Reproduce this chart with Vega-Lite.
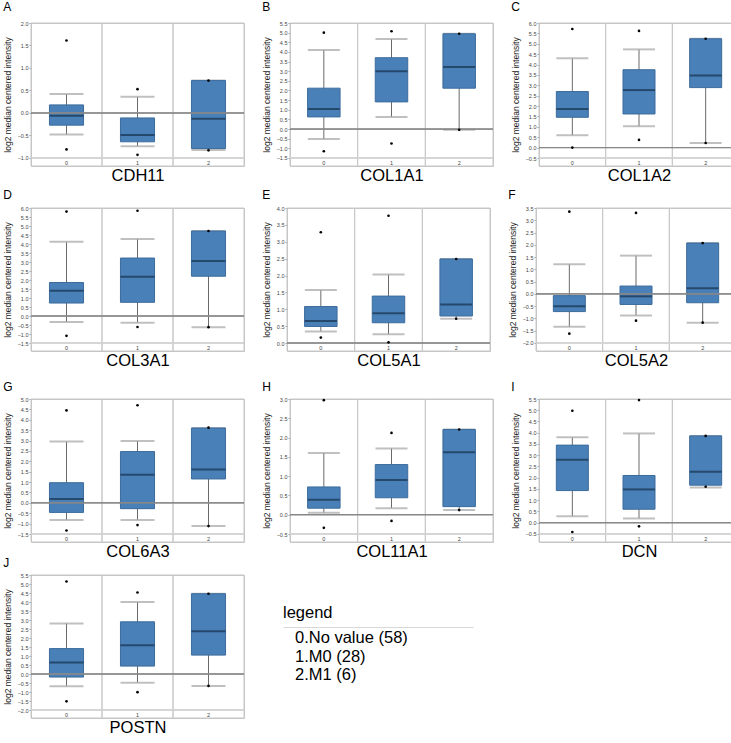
{
"$schema": "https://vega.github.io/schema/vega-lite/v6.json",
"padding": {"left": 2, "top": 0, "right": 2, "bottom": 2},
"background": "white",
"config": {
  "font": "Liberation Sans",
  "view": {"stroke": "#c4c4c4"},
  "title": {"font": "Liberation Sans", "fontWeight": "normal", "fontSize": 12, "anchor": "start", "frame": "bounds", "color": "#000", "offset": 7},
  "axisY": {"labelFont": "Liberation Sans", "labelFontSize": 5.5, "labelColor": "#444", "tickSize": 2, "tickColor": "#999", "domain": false, "grid": false, "labelPadding": 1, "titleFont": "Liberation Sans", "titleFontSize": 8.5, "titleFontWeight": "normal", "titleColor": "#222", "titlePadding": 5, "format": ".1f", "labelFlush": false, "labelOverlap": false},
  "axisX": {"labelFont": "Liberation Sans", "labelFontSize": 5.5, "labelColor": "#444", "ticks": false, "tickSize": 0, "domain": false, "grid": false, "labelPadding": -4, "labelAngle": 0, "labelBaseline": "middle", "titleFont": "Liberation Sans", "titleFontSize": 16.5, "titleFontWeight": "normal", "titleColor": "#000", "titlePadding": 1}
},
"data": {"values": [
  {"gene": "CDH11", "group": "0", "lo": -0.48, "q1": -0.27, "med": -0.06, "q3": 0.18, "hi": 0.42, "olo": -0.81, "ohi": 1.61},
  {"gene": "CDH11", "group": "1", "lo": -0.74, "q1": -0.64, "med": -0.49, "q3": -0.11, "hi": 0.36, "olo": -0.93, "ohi": 0.53},
  {"gene": "CDH11", "group": "2", "lo": -0.82, "q1": -0.79, "med": -0.13, "q3": 0.72, "hi": 0.72, "olo": -0.83, "ohi": 0.72},
  {"gene": "COL1A1", "group": "0", "lo": -0.52, "q1": 0.63, "med": 1.04, "q3": 2.12, "hi": 4.1, "olo": -1.15, "ohi": 5.0},
  {"gene": "COL1A1", "group": "1", "lo": 0.63, "q1": 1.41, "med": 3.0, "q3": 3.7, "hi": 4.67, "olo": -0.75, "ohi": 5.07},
  {"gene": "COL1A1", "group": "2", "lo": -0.04, "q1": 2.12, "med": 3.22, "q3": 4.94, "hi": 4.94, "olo": -0.04, "ohi": 4.94},
  {"gene": "COL1A2", "group": "0", "lo": 0.6, "q1": 1.46, "med": 1.86, "q3": 2.7, "hi": 4.3, "olo": 0.0, "ohi": 5.71},
  {"gene": "COL1A2", "group": "1", "lo": 1.03, "q1": 1.62, "med": 2.77, "q3": 3.75, "hi": 4.73, "olo": 0.37, "ohi": 5.62},
  {"gene": "COL1A2", "group": "2", "lo": 0.22, "q1": 2.89, "med": 3.47, "q3": 5.24, "hi": 5.24, "olo": 0.22, "ohi": 5.24},
  {"gene": "COL3A1", "group": "0", "lo": -0.33, "q1": 0.72, "med": 1.4, "q3": 1.86, "hi": 4.12, "olo": -1.1, "ohi": 5.8},
  {"gene": "COL3A1", "group": "1", "lo": -0.37, "q1": 0.76, "med": 2.18, "q3": 3.22, "hi": 4.28, "olo": -0.61, "ohi": 5.85},
  {"gene": "COL3A1", "group": "2", "lo": -0.62, "q1": 2.21, "med": 3.05, "q3": 4.72, "hi": 4.72, "olo": -0.62, "ohi": 4.72},
  {"gene": "COL5A1", "group": "0", "lo": 0.34, "q1": 0.49, "med": 0.65, "q3": 1.08, "hi": 1.57, "olo": 0.16, "ohi": 3.28},
  {"gene": "COL5A1", "group": "1", "lo": 0.26, "q1": 0.6, "med": 0.88, "q3": 1.39, "hi": 2.03, "olo": 0.02, "ohi": 3.77},
  {"gene": "COL5A1", "group": "2", "lo": 0.72, "q1": 0.8, "med": 1.14, "q3": 2.49, "hi": 2.49, "olo": 0.72, "ohi": 2.49},
  {"gene": "COL5A2", "group": "0", "lo": -1.34, "q1": -0.72, "med": -0.5, "q3": -0.07, "hi": 1.21, "olo": -1.62, "ohi": 3.35},
  {"gene": "COL5A2", "group": "1", "lo": -0.88, "q1": -0.43, "med": -0.1, "q3": 0.32, "hi": 1.56, "olo": -1.09, "ohi": 3.3},
  {"gene": "COL5A2", "group": "2", "lo": -1.17, "q1": -0.36, "med": 0.23, "q3": 2.07, "hi": 2.07, "olo": -1.17, "ohi": 2.07},
  {"gene": "COL6A3", "group": "0", "lo": -0.82, "q1": -0.46, "med": 0.18, "q3": 0.97, "hi": 2.95, "olo": -1.33, "ohi": 4.45},
  {"gene": "COL6A3", "group": "1", "lo": -0.82, "q1": -0.28, "med": 1.35, "q3": 2.47, "hi": 2.98, "olo": -1.07, "ohi": 4.7},
  {"gene": "COL6A3", "group": "2", "lo": -1.12, "q1": 1.15, "med": 1.6, "q3": 3.6, "hi": 3.6, "olo": -1.12, "ohi": 3.62},
  {"gene": "COL11A1", "group": "0", "lo": 0.05, "q1": 0.17, "med": 0.39, "q3": 0.72, "hi": 1.6, "olo": -0.34, "ohi": 2.97},
  {"gene": "COL11A1", "group": "1", "lo": 0.17, "q1": 0.44, "med": 0.9, "q3": 1.3, "hi": 1.72, "olo": -0.16, "ohi": 2.12},
  {"gene": "COL11A1", "group": "2", "lo": 0.12, "q1": 0.21, "med": 1.62, "q3": 2.21, "hi": 2.21, "olo": 0.12, "ohi": 2.21},
  {"gene": "DCN", "group": "0", "lo": 0.29, "q1": 1.43, "med": 2.8, "q3": 3.45, "hi": 3.8, "olo": -0.41, "ohi": 4.98},
  {"gene": "DCN", "group": "1", "lo": 0.19, "q1": 0.6, "med": 1.48, "q3": 2.1, "hi": 3.97, "olo": -0.16, "ohi": 5.45},
  {"gene": "DCN", "group": "2", "lo": 1.57, "q1": 1.67, "med": 2.27, "q3": 3.86, "hi": 3.86, "olo": 1.6, "ohi": 3.86},
  {"gene": "POSTN", "group": "0", "lo": -0.68, "q1": -0.17, "med": 0.64, "q3": 1.41, "hi": 2.81, "olo": -1.52, "ohi": 5.14},
  {"gene": "POSTN", "group": "1", "lo": -0.48, "q1": 0.44, "med": 1.6, "q3": 2.9, "hi": 4.0, "olo": -1.01, "ohi": 4.53},
  {"gene": "POSTN", "group": "2", "lo": -0.66, "q1": 1.05, "med": 2.37, "q3": 4.46, "hi": 4.46, "olo": -0.66, "ohi": 4.46}
]},
"spacing": 4,
"vconcat": [
{"spacing": 16, "hconcat": [
{"title": "A", "width": 213, "height": 143,
 "transform": [{"filter": {"field": "gene", "equal": "CDH11"}}],
 "layer": [
  {"mark": {"type": "rect", "fillOpacity": 0, "stroke": "#c8c8c8", "strokeWidth": 1},
   "encoding": {"x": {"field": "group", "type": "nominal", "scale": {"paddingInner": 0, "paddingOuter": 0}, "axis": {"title": "CDH11"}},
     "y": {"datum": 2, "type": "quantitative", "scale": {"domain": [-1.178, 2], "nice": false, "zero": false}, "axis": {"title": "log2 median centered intensity", "labelOverlap": false, "tickCount": 40, "values": [-1, -0.5, 0, 0.5, 1, 1.5, 2]}},
     "y2": {"datum": -1.178}}},
  {"mark": {"type": "rule", "color": "#d0d0d0"}, "encoding": {"y": {"datum": -1}}},
  {"mark": {"type": "rule", "color": "#6a6a6a"}, "encoding": {"x": {"field": "group", "type": "nominal"}, "y": {"field": "lo", "type": "quantitative"}, "y2": {"field": "hi"}}},
  {"transform": [{"fold": ["lo", "hi"], "as": ["k", "v"]}], "mark": {"type": "tick", "color": "#a5a5a5", "thickness": 2, "size": 34}, "encoding": {"x": {"field": "group", "type": "nominal"}, "y": {"field": "v", "type": "quantitative"}}},
  {"mark": {"type": "bar", "fill": "#4a80b8", "stroke": "#3b6b9c", "strokeWidth": 1, "width": {"band": 0.48}}, "encoding": {"x": {"field": "group", "type": "nominal"}, "y": {"field": "q1", "type": "quantitative"}, "y2": {"field": "q3"}}},
  {"mark": {"type": "rule", "color": "#888"}, "encoding": {"y": {"datum": 0}}},
  {"mark": {"type": "tick", "color": "#15304d", "thickness": 2, "size": 34}, "encoding": {"x": {"field": "group", "type": "nominal"}, "y": {"field": "med", "type": "quantitative"}}},
  {"transform": [{"fold": ["olo", "ohi"], "as": ["k", "v"]}], "mark": {"type": "circle", "color": "#000", "size": 7, "opacity": 1}, "encoding": {"x": {"field": "group", "type": "nominal"}, "y": {"field": "v", "type": "quantitative"}}}
 ]},
{"title": "B", "width": 203, "height": 143,
 "transform": [{"filter": {"field": "gene", "equal": "COL1A1"}}],
 "layer": [
  {"mark": {"type": "rect", "fillOpacity": 0, "stroke": "#c8c8c8", "strokeWidth": 1},
   "encoding": {"x": {"field": "group", "type": "nominal", "scale": {"paddingInner": 0, "paddingOuter": 0}, "axis": {"title": "COL1A1"}},
     "y": {"datum": 5.5, "type": "quantitative", "scale": {"domain": [-1.915, 5.5], "nice": false, "zero": false}, "axis": {"title": "log2 median centered intensity", "labelOverlap": false, "tickCount": 40, "values": [-1.5, -1, -0.5, 0, 0.5, 1, 1.5, 2, 2.5, 3, 3.5, 4, 4.5, 5, 5.5]}},
     "y2": {"datum": -1.915}}},
  {"mark": {"type": "rule", "color": "#d0d0d0"}, "encoding": {"y": {"datum": -1.5}}},
  {"mark": {"type": "rule", "color": "#6a6a6a"}, "encoding": {"x": {"field": "group", "type": "nominal"}, "y": {"field": "lo", "type": "quantitative"}, "y2": {"field": "hi"}}},
  {"transform": [{"fold": ["lo", "hi"], "as": ["k", "v"]}], "mark": {"type": "tick", "color": "#a5a5a5", "thickness": 2, "size": 32}, "encoding": {"x": {"field": "group", "type": "nominal"}, "y": {"field": "v", "type": "quantitative"}}},
  {"mark": {"type": "bar", "fill": "#4a80b8", "stroke": "#3b6b9c", "strokeWidth": 1, "width": {"band": 0.48}}, "encoding": {"x": {"field": "group", "type": "nominal"}, "y": {"field": "q1", "type": "quantitative"}, "y2": {"field": "q3"}}},
  {"mark": {"type": "rule", "color": "#888"}, "encoding": {"y": {"datum": 0}}},
  {"mark": {"type": "tick", "color": "#15304d", "thickness": 2, "size": 32}, "encoding": {"x": {"field": "group", "type": "nominal"}, "y": {"field": "med", "type": "quantitative"}}},
  {"transform": [{"fold": ["olo", "ohi"], "as": ["k", "v"]}], "mark": {"type": "circle", "color": "#000", "size": 7, "opacity": 1}, "encoding": {"x": {"field": "group", "type": "nominal"}, "y": {"field": "v", "type": "quantitative"}}}
 ]},
{"title": "C", "width": 200, "height": 143,
 "transform": [{"filter": {"field": "gene", "equal": "COL1A2"}}],
 "layer": [
  {"mark": {"type": "rect", "fillOpacity": 0, "stroke": "#c8c8c8", "strokeWidth": 1},
   "encoding": {"x": {"field": "group", "type": "nominal", "scale": {"paddingInner": 0, "paddingOuter": 0}, "axis": {"title": "COL1A2"}},
     "y": {"datum": 6, "type": "quantitative", "scale": {"domain": [-0.885, 6], "nice": false, "zero": false}, "axis": {"title": "log2 median centered intensity", "labelOverlap": false, "tickCount": 40, "values": [-0.5, 0, 0.5, 1, 1.5, 2, 2.5, 3, 3.5, 4, 4.5, 5, 5.5, 6]}},
     "y2": {"datum": -0.885}}},
  {"mark": {"type": "rule", "color": "#d0d0d0"}, "encoding": {"y": {"datum": -0.5}}},
  {"mark": {"type": "rule", "color": "#6a6a6a"}, "encoding": {"x": {"field": "group", "type": "nominal"}, "y": {"field": "lo", "type": "quantitative"}, "y2": {"field": "hi"}}},
  {"transform": [{"fold": ["lo", "hi"], "as": ["k", "v"]}], "mark": {"type": "tick", "color": "#a5a5a5", "thickness": 2, "size": 32}, "encoding": {"x": {"field": "group", "type": "nominal"}, "y": {"field": "v", "type": "quantitative"}}},
  {"mark": {"type": "bar", "fill": "#4a80b8", "stroke": "#3b6b9c", "strokeWidth": 1, "width": {"band": 0.48}}, "encoding": {"x": {"field": "group", "type": "nominal"}, "y": {"field": "q1", "type": "quantitative"}, "y2": {"field": "q3"}}},
  {"mark": {"type": "rule", "color": "#888"}, "encoding": {"y": {"datum": 0}}},
  {"mark": {"type": "tick", "color": "#15304d", "thickness": 2, "size": 32}, "encoding": {"x": {"field": "group", "type": "nominal"}, "y": {"field": "med", "type": "quantitative"}}},
  {"transform": [{"fold": ["olo", "ohi"], "as": ["k", "v"]}], "mark": {"type": "circle", "color": "#000", "size": 7, "opacity": 1}, "encoding": {"x": {"field": "group", "type": "nominal"}, "y": {"field": "v", "type": "quantitative"}}}
 ]}
]},
{"spacing": 11, "vconcat": [
{"spacing": 16, "hconcat": [
{"title": {"text": "D", "offset": 4}, "width": 213, "height": 143,
 "transform": [{"filter": {"field": "gene", "equal": "COL3A1"}}],
 "layer": [
  {"mark": {"type": "rect", "fillOpacity": 0, "stroke": "#c8c8c8", "strokeWidth": 1},
   "encoding": {"x": {"field": "group", "type": "nominal", "scale": {"paddingInner": 0, "paddingOuter": 0}, "axis": {"title": "COL3A1"}},
     "y": {"datum": 6, "type": "quantitative", "scale": {"domain": [-1.944, 6], "nice": false, "zero": false}, "axis": {"title": "log2 median centered intensity", "labelOverlap": false, "tickCount": 40, "values": [-1.5, -1, -0.5, 0, 0.5, 1, 1.5, 2, 2.5, 3, 3.5, 4, 4.5, 5, 5.5, 6]}},
     "y2": {"datum": -1.944}}},
  {"mark": {"type": "rule", "color": "#d0d0d0"}, "encoding": {"y": {"datum": -1.5}}},
  {"mark": {"type": "rule", "color": "#6a6a6a"}, "encoding": {"x": {"field": "group", "type": "nominal"}, "y": {"field": "lo", "type": "quantitative"}, "y2": {"field": "hi"}}},
  {"transform": [{"fold": ["lo", "hi"], "as": ["k", "v"]}], "mark": {"type": "tick", "color": "#a5a5a5", "thickness": 2, "size": 34}, "encoding": {"x": {"field": "group", "type": "nominal"}, "y": {"field": "v", "type": "quantitative"}}},
  {"mark": {"type": "bar", "fill": "#4a80b8", "stroke": "#3b6b9c", "strokeWidth": 1, "width": {"band": 0.48}}, "encoding": {"x": {"field": "group", "type": "nominal"}, "y": {"field": "q1", "type": "quantitative"}, "y2": {"field": "q3"}}},
  {"mark": {"type": "rule", "color": "#888"}, "encoding": {"y": {"datum": 0}}},
  {"mark": {"type": "tick", "color": "#15304d", "thickness": 2, "size": 34}, "encoding": {"x": {"field": "group", "type": "nominal"}, "y": {"field": "med", "type": "quantitative"}}},
  {"transform": [{"fold": ["olo", "ohi"], "as": ["k", "v"]}], "mark": {"type": "circle", "color": "#000", "size": 7, "opacity": 1}, "encoding": {"x": {"field": "group", "type": "nominal"}, "y": {"field": "v", "type": "quantitative"}}}
 ]},
{"title": {"text": "E", "offset": 4}, "width": 203, "height": 143,
 "transform": [{"filter": {"field": "gene", "equal": "COL5A1"}}],
 "layer": [
  {"mark": {"type": "rect", "fillOpacity": 0, "stroke": "#c8c8c8", "strokeWidth": 1},
   "encoding": {"x": {"field": "group", "type": "nominal", "scale": {"paddingInner": 0, "paddingOuter": 0}, "axis": {"title": "COL5A1"}},
     "y": {"datum": 4, "type": "quantitative", "scale": {"domain": [-0.237, 4], "nice": false, "zero": false}, "axis": {"title": "log2 median centered intensity", "labelOverlap": false, "tickCount": 40, "values": [0, 0.5, 1, 1.5, 2, 2.5, 3, 3.5, 4]}},
     "y2": {"datum": -0.237}}},
  {"mark": {"type": "rule", "color": "#6a6a6a"}, "encoding": {"x": {"field": "group", "type": "nominal"}, "y": {"field": "lo", "type": "quantitative"}, "y2": {"field": "hi"}}},
  {"transform": [{"fold": ["lo", "hi"], "as": ["k", "v"]}], "mark": {"type": "tick", "color": "#a5a5a5", "thickness": 2, "size": 32}, "encoding": {"x": {"field": "group", "type": "nominal"}, "y": {"field": "v", "type": "quantitative"}}},
  {"mark": {"type": "bar", "fill": "#4a80b8", "stroke": "#3b6b9c", "strokeWidth": 1, "width": {"band": 0.48}}, "encoding": {"x": {"field": "group", "type": "nominal"}, "y": {"field": "q1", "type": "quantitative"}, "y2": {"field": "q3"}}},
  {"mark": {"type": "rule", "color": "#888"}, "encoding": {"y": {"datum": 0}}},
  {"mark": {"type": "tick", "color": "#15304d", "thickness": 2, "size": 32}, "encoding": {"x": {"field": "group", "type": "nominal"}, "y": {"field": "med", "type": "quantitative"}}},
  {"transform": [{"fold": ["olo", "ohi"], "as": ["k", "v"]}], "mark": {"type": "circle", "color": "#000", "size": 7, "opacity": 1}, "encoding": {"x": {"field": "group", "type": "nominal"}, "y": {"field": "v", "type": "quantitative"}}}
 ]},
{"title": {"text": "F", "offset": 4}, "width": 200, "height": 143,
 "transform": [{"filter": {"field": "gene", "equal": "COL5A2"}}],
 "layer": [
  {"mark": {"type": "rect", "fillOpacity": 0, "stroke": "#c8c8c8", "strokeWidth": 1},
   "encoding": {"x": {"field": "group", "type": "nominal", "scale": {"paddingInner": 0, "paddingOuter": 0}, "axis": {"title": "COL5A2"}},
     "y": {"datum": 3.5, "type": "quantitative", "scale": {"domain": [-2.326, 3.5], "nice": false, "zero": false}, "axis": {"title": "log2 median centered intensity", "labelOverlap": false, "tickCount": 40, "values": [-2, -1.5, -1, -0.5, 0, 0.5, 1, 1.5, 2, 2.5, 3, 3.5]}},
     "y2": {"datum": -2.326}}},
  {"mark": {"type": "rule", "color": "#d0d0d0"}, "encoding": {"y": {"datum": -2}}},
  {"mark": {"type": "rule", "color": "#6a6a6a"}, "encoding": {"x": {"field": "group", "type": "nominal"}, "y": {"field": "lo", "type": "quantitative"}, "y2": {"field": "hi"}}},
  {"transform": [{"fold": ["lo", "hi"], "as": ["k", "v"]}], "mark": {"type": "tick", "color": "#a5a5a5", "thickness": 2, "size": 32}, "encoding": {"x": {"field": "group", "type": "nominal"}, "y": {"field": "v", "type": "quantitative"}}},
  {"mark": {"type": "bar", "fill": "#4a80b8", "stroke": "#3b6b9c", "strokeWidth": 1, "width": {"band": 0.48}}, "encoding": {"x": {"field": "group", "type": "nominal"}, "y": {"field": "q1", "type": "quantitative"}, "y2": {"field": "q3"}}},
  {"mark": {"type": "rule", "color": "#888"}, "encoding": {"y": {"datum": 0}}},
  {"mark": {"type": "tick", "color": "#15304d", "thickness": 2, "size": 32}, "encoding": {"x": {"field": "group", "type": "nominal"}, "y": {"field": "med", "type": "quantitative"}}},
  {"transform": [{"fold": ["olo", "ohi"], "as": ["k", "v"]}], "mark": {"type": "circle", "color": "#000", "size": 7, "opacity": 1}, "encoding": {"x": {"field": "group", "type": "nominal"}, "y": {"field": "v", "type": "quantitative"}}}
 ]}
]},
{"spacing": -4, "vconcat": [
{"spacing": 16, "hconcat": [
{"title": {"text": "G", "offset": 3}, "width": 213, "height": 143,
 "transform": [{"filter": {"field": "gene", "equal": "COL6A3"}}],
 "layer": [
  {"mark": {"type": "rect", "fillOpacity": 0, "stroke": "#c8c8c8", "strokeWidth": 1},
   "encoding": {"x": {"field": "group", "type": "nominal", "scale": {"paddingInner": 0, "paddingOuter": 0}, "axis": {"title": "COL6A3"}},
     "y": {"datum": 5, "type": "quantitative", "scale": {"domain": [-1.885, 5], "nice": false, "zero": false}, "axis": {"title": "log2 median centered intensity", "labelOverlap": false, "tickCount": 40, "values": [-1.5, -1, -0.5, 0, 0.5, 1, 1.5, 2, 2.5, 3, 3.5, 4, 4.5, 5]}},
     "y2": {"datum": -1.885}}},
  {"mark": {"type": "rule", "color": "#d0d0d0"}, "encoding": {"y": {"datum": -1.5}}},
  {"mark": {"type": "rule", "color": "#6a6a6a"}, "encoding": {"x": {"field": "group", "type": "nominal"}, "y": {"field": "lo", "type": "quantitative"}, "y2": {"field": "hi"}}},
  {"transform": [{"fold": ["lo", "hi"], "as": ["k", "v"]}], "mark": {"type": "tick", "color": "#a5a5a5", "thickness": 2, "size": 34}, "encoding": {"x": {"field": "group", "type": "nominal"}, "y": {"field": "v", "type": "quantitative"}}},
  {"mark": {"type": "bar", "fill": "#4a80b8", "stroke": "#3b6b9c", "strokeWidth": 1, "width": {"band": 0.48}}, "encoding": {"x": {"field": "group", "type": "nominal"}, "y": {"field": "q1", "type": "quantitative"}, "y2": {"field": "q3"}}},
  {"mark": {"type": "rule", "color": "#888"}, "encoding": {"y": {"datum": 0}}},
  {"mark": {"type": "tick", "color": "#15304d", "thickness": 2, "size": 34}, "encoding": {"x": {"field": "group", "type": "nominal"}, "y": {"field": "med", "type": "quantitative"}}},
  {"transform": [{"fold": ["olo", "ohi"], "as": ["k", "v"]}], "mark": {"type": "circle", "color": "#000", "size": 7, "opacity": 1}, "encoding": {"x": {"field": "group", "type": "nominal"}, "y": {"field": "v", "type": "quantitative"}}}
 ]},
{"title": {"text": "H", "offset": 3}, "width": 203, "height": 143,
 "transform": [{"filter": {"field": "gene", "equal": "COL11A1"}}],
 "layer": [
  {"mark": {"type": "rect", "fillOpacity": 0, "stroke": "#c8c8c8", "strokeWidth": 1},
   "encoding": {"x": {"field": "group", "type": "nominal", "scale": {"paddingInner": 0, "paddingOuter": 0}, "axis": {"title": "COL11A1"}},
     "y": {"datum": 3, "type": "quantitative", "scale": {"domain": [-0.707, 3], "nice": false, "zero": false}, "axis": {"title": "log2 median centered intensity", "labelOverlap": false, "tickCount": 40, "values": [-0.5, 0, 0.5, 1, 1.5, 2, 2.5, 3]}},
     "y2": {"datum": -0.707}}},
  {"mark": {"type": "rule", "color": "#d0d0d0"}, "encoding": {"y": {"datum": -0.5}}},
  {"mark": {"type": "rule", "color": "#6a6a6a"}, "encoding": {"x": {"field": "group", "type": "nominal"}, "y": {"field": "lo", "type": "quantitative"}, "y2": {"field": "hi"}}},
  {"transform": [{"fold": ["lo", "hi"], "as": ["k", "v"]}], "mark": {"type": "tick", "color": "#a5a5a5", "thickness": 2, "size": 32}, "encoding": {"x": {"field": "group", "type": "nominal"}, "y": {"field": "v", "type": "quantitative"}}},
  {"mark": {"type": "bar", "fill": "#4a80b8", "stroke": "#3b6b9c", "strokeWidth": 1, "width": {"band": 0.48}}, "encoding": {"x": {"field": "group", "type": "nominal"}, "y": {"field": "q1", "type": "quantitative"}, "y2": {"field": "q3"}}},
  {"mark": {"type": "rule", "color": "#888"}, "encoding": {"y": {"datum": 0}}},
  {"mark": {"type": "tick", "color": "#15304d", "thickness": 2, "size": 32}, "encoding": {"x": {"field": "group", "type": "nominal"}, "y": {"field": "med", "type": "quantitative"}}},
  {"transform": [{"fold": ["olo", "ohi"], "as": ["k", "v"]}], "mark": {"type": "circle", "color": "#000", "size": 7, "opacity": 1}, "encoding": {"x": {"field": "group", "type": "nominal"}, "y": {"field": "v", "type": "quantitative"}}}
 ]},
{"title": {"text": "I", "offset": 3}, "width": 200, "height": 143,
 "transform": [{"filter": {"field": "gene", "equal": "DCN"}}],
 "layer": [
  {"mark": {"type": "rect", "fillOpacity": 0, "stroke": "#c8c8c8", "strokeWidth": 1},
   "encoding": {"x": {"field": "group", "type": "nominal", "scale": {"paddingInner": 0, "paddingOuter": 0}, "axis": {"title": "DCN"}},
     "y": {"datum": 5.5, "type": "quantitative", "scale": {"domain": [-0.856, 5.5], "nice": false, "zero": false}, "axis": {"title": "log2 median centered intensity", "labelOverlap": false, "tickCount": 40, "values": [-0.5, 0, 0.5, 1, 1.5, 2, 2.5, 3, 3.5, 4, 4.5, 5, 5.5]}},
     "y2": {"datum": -0.856}}},
  {"mark": {"type": "rule", "color": "#d0d0d0"}, "encoding": {"y": {"datum": -0.5}}},
  {"mark": {"type": "rule", "color": "#6a6a6a"}, "encoding": {"x": {"field": "group", "type": "nominal"}, "y": {"field": "lo", "type": "quantitative"}, "y2": {"field": "hi"}}},
  {"transform": [{"fold": ["lo", "hi"], "as": ["k", "v"]}], "mark": {"type": "tick", "color": "#a5a5a5", "thickness": 2, "size": 32}, "encoding": {"x": {"field": "group", "type": "nominal"}, "y": {"field": "v", "type": "quantitative"}}},
  {"mark": {"type": "bar", "fill": "#4a80b8", "stroke": "#3b6b9c", "strokeWidth": 1, "width": {"band": 0.48}}, "encoding": {"x": {"field": "group", "type": "nominal"}, "y": {"field": "q1", "type": "quantitative"}, "y2": {"field": "q3"}}},
  {"mark": {"type": "rule", "color": "#888"}, "encoding": {"y": {"datum": 0}}},
  {"mark": {"type": "tick", "color": "#15304d", "thickness": 2, "size": 32}, "encoding": {"x": {"field": "group", "type": "nominal"}, "y": {"field": "med", "type": "quantitative"}}},
  {"transform": [{"fold": ["olo", "ohi"], "as": ["k", "v"]}], "mark": {"type": "circle", "color": "#000", "size": 7, "opacity": 1}, "encoding": {"x": {"field": "group", "type": "nominal"}, "y": {"field": "v", "type": "quantitative"}}}
 ]}
]},
{"spacing": 38, "hconcat": [
{"title": {"text": "J", "offset": 3}, "width": 213, "height": 143,
 "transform": [{"filter": {"field": "gene", "equal": "POSTN"}}],
 "layer": [
  {"mark": {"type": "rect", "fillOpacity": 0, "stroke": "#c8c8c8", "strokeWidth": 1},
   "encoding": {"x": {"field": "group", "type": "nominal", "scale": {"paddingInner": 0, "paddingOuter": 0}, "axis": {"title": "POSTN"}},
     "y": {"datum": 5.5, "type": "quantitative", "scale": {"domain": [-2.444, 5.5], "nice": false, "zero": false}, "axis": {"title": "log2 median centered intensity", "labelOverlap": false, "tickCount": 40, "values": [-2, -1.5, -1, -0.5, 0, 0.5, 1, 1.5, 2, 2.5, 3, 3.5, 4, 4.5, 5, 5.5]}},
     "y2": {"datum": -2.444}}},
  {"mark": {"type": "rule", "color": "#d0d0d0"}, "encoding": {"y": {"datum": -2}}},
  {"mark": {"type": "rule", "color": "#6a6a6a"}, "encoding": {"x": {"field": "group", "type": "nominal"}, "y": {"field": "lo", "type": "quantitative"}, "y2": {"field": "hi"}}},
  {"transform": [{"fold": ["lo", "hi"], "as": ["k", "v"]}], "mark": {"type": "tick", "color": "#a5a5a5", "thickness": 2, "size": 34}, "encoding": {"x": {"field": "group", "type": "nominal"}, "y": {"field": "v", "type": "quantitative"}}},
  {"mark": {"type": "bar", "fill": "#4a80b8", "stroke": "#3b6b9c", "strokeWidth": 1, "width": {"band": 0.48}}, "encoding": {"x": {"field": "group", "type": "nominal"}, "y": {"field": "q1", "type": "quantitative"}, "y2": {"field": "q3"}}},
  {"mark": {"type": "rule", "color": "#888"}, "encoding": {"y": {"datum": 0}}},
  {"mark": {"type": "tick", "color": "#15304d", "thickness": 2, "size": 34}, "encoding": {"x": {"field": "group", "type": "nominal"}, "y": {"field": "med", "type": "quantitative"}}},
  {"transform": [{"fold": ["olo", "ohi"], "as": ["k", "v"]}], "mark": {"type": "circle", "color": "#000", "size": 7, "opacity": 1}, "encoding": {"x": {"field": "group", "type": "nominal"}, "y": {"field": "v", "type": "quantitative"}}}
 ]},
{"spacing": 0, "vconcat": [
  {"width": 190, "height": 29, "data": {"values": [{}]}, "mark": {"type": "point", "opacity": 0}, "encoding": {}, "view": {"stroke": null}},
  {"width": 190, "height": 56,
   "title": {"text": "legend", "fontSize": 16.5, "offset": 6},
   "view": {"stroke": null},
   "data": {"values": [{"order": 0, "label": "0.No value (58)"}, {"order": 1, "label": "1.M0 (28)"}, {"order": 2, "label": "2.M1 (6)"}]},
   "mark": {"type": "text", "align": "left", "baseline": "middle", "fontSize": 16.5, "dx": 12, "dy": 1.5, "color": "#000", "font": "Liberation Sans"},
   "encoding": {
     "x": {"datum": 0, "type": "quantitative", "scale": {"domain": [0, 1], "nice": false, "zero": false}, "axis": {"orient": "top", "domain": true, "domainColor": "#d8d8d8", "labels": false, "ticks": false, "title": null, "grid": false}},
     "y": {"field": "order", "type": "ordinal", "axis": null},
     "text": {"field": "label"}
   }}
]}
]}
]}
]}
]
}
